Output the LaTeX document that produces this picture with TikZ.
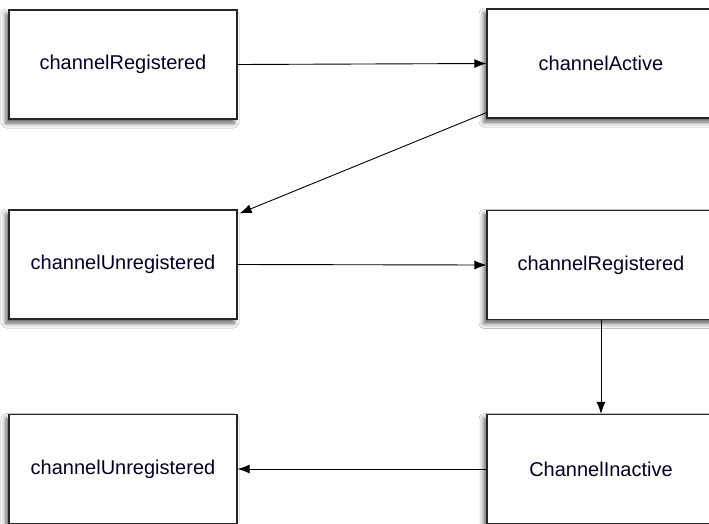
\documentclass[tikz,border=0pt]{standalone}
\usepackage{fontspec}
\setmainfont{Liberation Sans}
\usetikzlibrary{arrows.meta, shadows.blur}
\tikzset{state/.style={draw=black!85, line width=1.2pt, fill=white,
			minimum width=228pt, minimum height=109pt, inner sep=0pt,
			font=\fontsize{20}{24}\selectfont, text=black!85!blue,
			blur shadow={shadow xshift=-3pt, shadow yshift=-4pt,
				shadow blur radius=5pt, shadow opacity=65}},
	flow/.style={draw=black, line width=0.9pt, -{Latex[length=12pt,width=9pt]}},
}

\begin{document}
\begin{tikzpicture}[x=1pt, y=-1pt]
		\path [use as bounding box, fill=white] (0,0) rectangle (709,523);
		%\draw[very thin, gray!50] (0,0) grid[step=50] (709,523);
		\node[state] at (123,64.5) (reg1) {channelRegistered};
		\node[state] at (601,63.5) (act) {channelActive};
		\node[state] at (123,264.5) (unreg1) {channelUnregistered};
		\node[state] at (601,265) (reg2) {channelRegistered};
		\node[state] at (601,469) (inact) {ChannelInactive};
		\node[state] at (123,469) (unreg2) {channelUnregistered};
		\draw[flow] (reg1.east) -- (act.west);
		\draw[flow] ([yshift=6pt]act.south west) -- ([xshift=2pt,yshift=-4pt]unreg1.north east);
		\draw[flow] (unreg1.east) -- (reg2.west);
		\draw[flow] (reg2.south) -- (inact.north);
		\draw[flow] (inact.west) -- (unreg2.east);
	\end{tikzpicture}
\end{document}
